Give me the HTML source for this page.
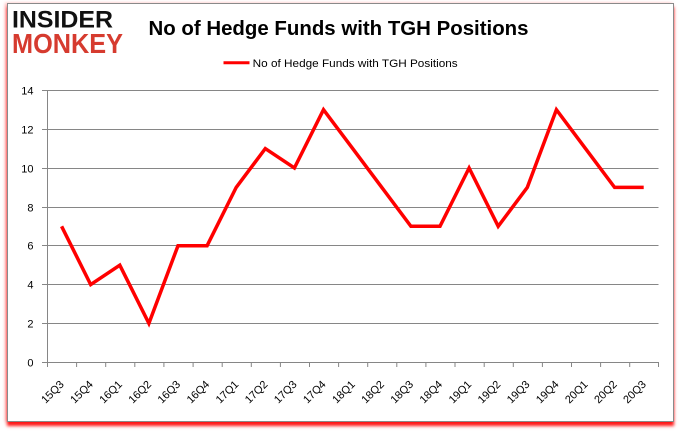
<!DOCTYPE html>
<html>
<head>
<meta charset="utf-8">
<style>
html,body{margin:0;padding:0;background:#fff;}
body{width:680px;height:433px;position:relative;overflow:hidden;}
.frame{position:absolute;left:7px;top:3px;width:665px;height:417px;border:1px solid #8a8a8a;background:#fff;box-shadow:0 4px 3px rgba(255,0,0,0.9),-2px 0 3px rgba(255,120,120,0.5);}
svg{position:absolute;left:0;top:0;}
</style>
</head>
<body>
<div class="frame"></div>
<svg width="680" height="433" viewBox="0 0 680 433" xmlns="http://www.w3.org/2000/svg">
  <!-- logo -->
  <text x="12" y="27.5" font-family="Liberation Sans, sans-serif" font-weight="bold" font-size="24" fill="#111" textLength="101" lengthAdjust="spacingAndGlyphs">INSIDER</text>
  <text x="12" y="53" font-family="Liberation Sans, sans-serif" font-weight="bold" font-size="27.5" fill="#d63b2f" textLength="111" lengthAdjust="spacingAndGlyphs">MONKEY</text>
  <!-- title -->
  <text x="148.5" y="35" font-family="Liberation Sans, sans-serif" font-weight="bold" font-size="20" fill="#000" textLength="380" lengthAdjust="spacingAndGlyphs">No of Hedge Funds with TGH Positions</text>
  <!-- legend -->
  <line x1="223.5" y1="62.7" x2="249.5" y2="62.7" stroke="#ff0000" stroke-width="3"/>
  <text x="252.7" y="66.8" font-family="Liberation Sans, sans-serif" font-size="11" fill="#000" textLength="205" lengthAdjust="spacingAndGlyphs">No of Hedge Funds with TGH Positions</text>
  <!-- gridlines -->
  <g stroke="#868686" stroke-width="1">
    <line x1="42" y1="90.5" x2="658.5" y2="90.5"/>
    <line x1="42" y1="129.5" x2="658.5" y2="129.5"/>
    <line x1="42" y1="168.5" x2="658.5" y2="168.5"/>
    <line x1="42" y1="207.5" x2="658.5" y2="207.5"/>
    <line x1="42" y1="245.5" x2="658.5" y2="245.5"/>
    <line x1="42" y1="284.5" x2="658.5" y2="284.5"/>
    <line x1="42" y1="323.5" x2="658.5" y2="323.5"/>
    <line x1="42" y1="362.5" x2="658.5" y2="362.5"/>
    <line x1="47.5" y1="90.5" x2="47.5" y2="362.5"/>
  </g>
  <!-- x ticks -->
  <g stroke="#868686" stroke-width="1">
    <line x1="47.5" y1="362" x2="47.5" y2="367"/>
    <line x1="76.6" y1="362" x2="76.6" y2="367"/>
    <line x1="105.7" y1="362" x2="105.7" y2="367"/>
    <line x1="134.8" y1="362" x2="134.8" y2="367"/>
    <line x1="163.9" y1="362" x2="163.9" y2="367"/>
    <line x1="193.1" y1="362" x2="193.1" y2="367"/>
    <line x1="222.2" y1="362" x2="222.2" y2="367"/>
    <line x1="251.3" y1="362" x2="251.3" y2="367"/>
    <line x1="280.4" y1="362" x2="280.4" y2="367"/>
    <line x1="309.5" y1="362" x2="309.5" y2="367"/>
    <line x1="338.6" y1="362" x2="338.6" y2="367"/>
    <line x1="367.7" y1="362" x2="367.7" y2="367"/>
    <line x1="396.8" y1="362" x2="396.8" y2="367"/>
    <line x1="425.9" y1="362" x2="425.9" y2="367"/>
    <line x1="455.0" y1="362" x2="455.0" y2="367"/>
    <line x1="484.2" y1="362" x2="484.2" y2="367"/>
    <line x1="513.3" y1="362" x2="513.3" y2="367"/>
    <line x1="542.4" y1="362" x2="542.4" y2="367"/>
    <line x1="571.5" y1="362" x2="571.5" y2="367"/>
    <line x1="600.6" y1="362" x2="600.6" y2="367"/>
    <line x1="629.7" y1="362" x2="629.7" y2="367"/>
    <line x1="658.5" y1="362" x2="658.5" y2="367"/>
  </g>
  <!-- y labels -->
  <g font-family="Liberation Sans, sans-serif" font-size="11" fill="#000" text-anchor="end">
    <text x="33.5" y="94.5">14</text>
    <text x="33.5" y="133.5">12</text>
    <text x="33.5" y="172.5">10</text>
    <text x="33.5" y="211.5">8</text>
    <text x="33.5" y="249.5">6</text>
    <text x="33.5" y="288.5">4</text>
    <text x="33.5" y="327.5">2</text>
    <text x="33.5" y="366.5">0</text>
  </g>
  <!-- x labels -->
  <g font-family="Liberation Sans, sans-serif" font-size="11" fill="#000" text-anchor="end">
    <text transform="translate(64.6,385) rotate(-45)">15Q3</text>
    <text transform="translate(93.7,385) rotate(-45)">15Q4</text>
    <text transform="translate(122.8,385) rotate(-45)">16Q1</text>
    <text transform="translate(151.9,385) rotate(-45)">16Q2</text>
    <text transform="translate(181.0,385) rotate(-45)">16Q3</text>
    <text transform="translate(210.1,385) rotate(-45)">16Q4</text>
    <text transform="translate(239.2,385) rotate(-45)">17Q1</text>
    <text transform="translate(268.3,385) rotate(-45)">17Q2</text>
    <text transform="translate(297.4,385) rotate(-45)">17Q3</text>
    <text transform="translate(326.5,385) rotate(-45)">17Q4</text>
    <text transform="translate(355.7,385) rotate(-45)">18Q1</text>
    <text transform="translate(384.8,385) rotate(-45)">18Q2</text>
    <text transform="translate(413.9,385) rotate(-45)">18Q3</text>
    <text transform="translate(443.0,385) rotate(-45)">18Q4</text>
    <text transform="translate(472.1,385) rotate(-45)">19Q1</text>
    <text transform="translate(501.2,385) rotate(-45)">19Q2</text>
    <text transform="translate(530.3,385) rotate(-45)">19Q3</text>
    <text transform="translate(559.4,385) rotate(-45)">19Q4</text>
    <text transform="translate(588.5,385) rotate(-45)">20Q1</text>
    <text transform="translate(617.6,385) rotate(-45)">20Q2</text>
    <text transform="translate(646.7,385) rotate(-45)">20Q3</text>
  </g>
  <!-- series -->
  <polyline fill="none" stroke="#ff0000" stroke-width="3.5" stroke-linejoin="miter" stroke-linecap="butt"
    points="61.6,226.3 90.7,284.6 119.8,265.2 148.9,323.4 178.0,245.7 207.1,245.7 236.2,187.4 265.3,148.6 294.4,168.0 323.5,109.7 352.7,148.6 381.8,187.4 410.9,226.3 440.0,226.3 469.1,168.0 498.2,226.3 527.3,187.4 556.4,109.7 585.5,148.6 614.6,187.4 643.7,187.4"/>
</svg>
</body>
</html>
